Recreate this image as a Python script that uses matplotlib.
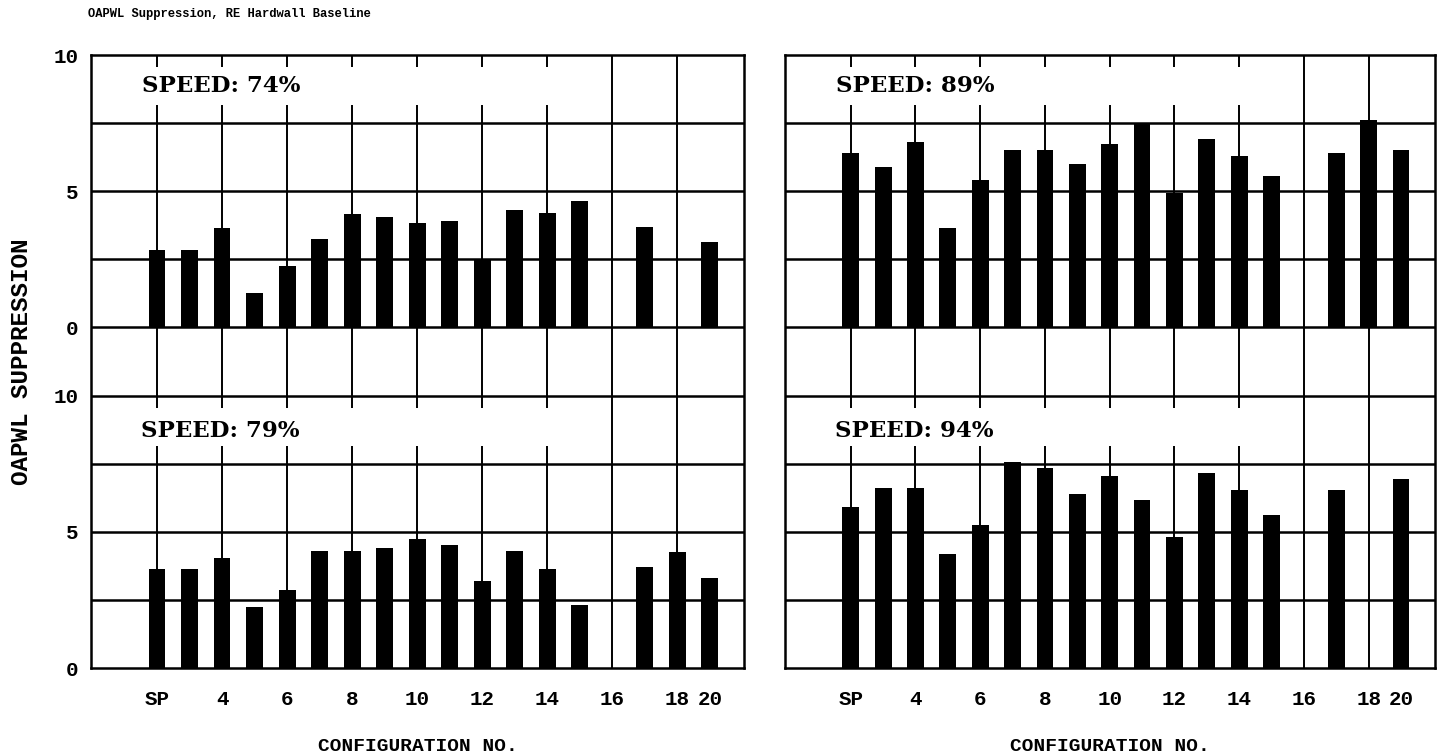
import numpy as np
import matplotlib.pyplot as plt

# Configurations along the x axis (16 and 19 have no separate slot)
configs = ["SP", "3", "4", "5", "6", "7", "8", "9", "10", "11", "12",
           "13", "14", "15", "16", "17", "18", "20"]
tick_labels = ["SP", "4", "6", "8", "10", "12", "14", "16", "18", "20"]

nan = np.nan
# OAPWL suppression, dB, per speed
speed_74 = [2.85, 2.85, 3.65, 1.25, 2.25, 3.25, 4.15, 4.05, 3.85, 3.9,
            2.5, 4.3, 4.2, 4.65, nan, 3.7, nan, 3.15]
speed_79 = [3.65, 3.65, 4.05, 2.25, 2.85, 4.3, 4.3, 4.4, 4.75, 4.5,
            3.2, 4.3, 3.65, 2.3, nan, 3.7, 4.25, 3.3]
speed_89 = [6.4, 5.9, 6.8, 3.65, 5.4, 6.5, 6.5, 6.0, 6.75, 7.5,
            4.95, 6.9, 6.3, 5.55, nan, 6.4, 7.6, 6.5]
speed_94 = [5.9, 6.6, 6.6, 4.2, 5.25, 7.55, 7.35, 6.4, 7.05, 6.15,
            4.8, 7.15, 6.55, 5.6, nan, 6.55, nan, 6.95]

mono = "Liberation Mono"
serif = "DejaVu Serif"
lw = 1.8

x = np.arange(len(configs))
top_base = 12.5  # upper panel drawn above a 2.5 unit gap

fig = plt.figure(figsize=(14.37, 7.56), dpi=100)
ax_l = fig.add_axes([0.0633, 0.1164, 0.4544, 0.8108])
ax_r = fig.add_axes([0.5463, 0.1164, 0.4523, 0.8108])


def draw_column(ax, upper, lower, upper_name, lower_name):
    ax.set_xlim(-2.03, 18.05)
    ax.set_ylim(0, 22.5)

    # horizontal grid
    for y in np.arange(2.5, 22.5, 2.5):
        ax.axhline(y, color="black", lw=lw, zorder=1)

    # vertical grid, broken where the speed label sits
    for p in range(0, 17, 2):
        if p <= 12:
            segs = [(0, 8.15), (9.55, top_base + 8.15), (top_base + 9.55, 22.5)]
        else:
            segs = [(0, 22.5)]
        for y0, y1 in segs:
            ax.vlines(p, y0, y1, color="black", lw=1.4, zorder=1)

    for vals, base in [(upper, top_base), (lower, 0)]:
        v = np.array(vals, dtype=float)
        m = ~np.isnan(v)
        ax.bar(x[m], v[m], width=0.52, bottom=base, color="black", zorder=3)

    ax.text(-0.45, top_base + 8.85, upper_name, fontsize=16.5, family=serif,
            fontweight="bold", va="center", ha="left", zorder=4)
    ax.text(-0.5, 8.7, lower_name, fontsize=16.5, family=serif,
            fontweight="bold", va="center", ha="left", zorder=4)

    for s in ax.spines.values():
        s.set_linewidth(lw)

    ax.set_xticks([configs.index(t) for t in tick_labels])
    ax.set_xticklabels(tick_labels, family=mono, fontweight="bold", fontsize=15)
    ax.tick_params(axis="x", length=0, pad=16)
    ax.set_xlabel("CONFIGURATION NO.", family=mono, fontweight="bold",
                  fontsize=14, labelpad=21)


draw_column(ax_l, speed_74, speed_79, "SPEED: 74%", "SPEED: 79%")
draw_column(ax_r, speed_89, speed_94, "SPEED: 89%", "SPEED: 94%")

ax_l.set_yticks([0, 5, 10, 12.5, 17.5, 22.5])
ax_l.set_yticklabels(["0", "5", "10", "0", "5", "10"], family=mono,
                     fontweight="bold", fontsize=15)
ax_l.tick_params(axis="y", length=0, pad=9)
ax_r.set_yticks([])

fig.text(0.0153, 0.521, "OAPWL SUPPRESSION", rotation=90, family=mono,
         fontweight="bold", fontsize=17.5, ha="center", va="center")
fig.text(0.0612, 0.981, "OAPWL Suppression, RE Hardwall Baseline",
         family=mono, fontweight="bold", fontsize=8.7, ha="left", va="center")

fig.savefig("out.png", dpi=100)
